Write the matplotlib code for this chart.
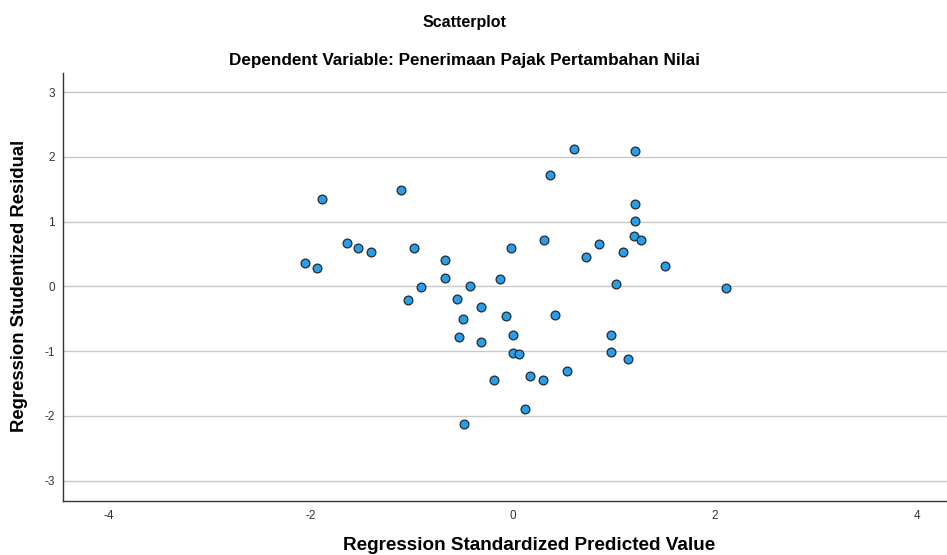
import matplotlib
matplotlib.use("Agg")
import matplotlib.pyplot as plt

plt.rcParams['font.family'] = ['Liberation Sans', 'DejaVu Sans']
plt.rcParams['axes.unicode_minus'] = False

# values
pred = [-2.054, -1.939, -1.883, -1.642, -1.527, -1.401, -1.104, -1.038, -0.982,
        -0.913, -0.675, -0.675, -0.553, -0.533, -0.497, -0.487, -0.428, -0.312,
        -0.312, -0.190, -0.124, -0.064, -0.018, -0.002, 0.002, 0.057, 0.124,
        0.173, 0.299, 0.312, 0.365, 0.418, 0.537, 0.606, 0.728, 0.850, 0.972,
        0.972, 1.022, 1.091, 1.144, 1.196, 1.213, 1.213, 1.213, 1.265, 1.510,
        2.111]
resid = [0.360, 0.288, 1.354, 0.665, 0.597, 0.525, 1.488, -0.207, 0.587,
         -0.006, 0.402, 0.133, -0.196, -0.789, -0.511, -2.118, 0.005, -0.320,
         -0.856, -1.448, 0.108, -0.454, 0.597, -1.026, -0.758, -1.046, -1.891,
         -1.381, -1.443, 0.711, 1.715, -0.449, -1.309, 2.127, 0.458, 0.659,
         -0.748, -1.015, 0.031, 0.535, -1.119, 0.782, 2.091, 1.277, 1.004,
         0.711, 0.314, -0.022]
xticks = [-4, -2, 0, 2, 4]
yticks = [-3, -2, -1, 0, 1, 2, 3]

fig = plt.figure(figsize=(9.47, 5.55), dpi=100)
ax = fig.add_axes([0.0665, 0.0978, 0.95, 0.7712])

ax.scatter(pred, resid, s=40, c='#2A9DE8', edgecolors='#1f2a33', linewidths=0.9, zorder=3)

ax.set_xlim(-4.45, 4.45)
ax.set_ylim(-3.31, 3.30)
ax.set_xticks(xticks)
ax.set_yticks(yticks)
ax.tick_params(length=0, labelsize=8.5, colors='#333333', pad=7)
ax.tick_params(axis='y', pad=6)
ax.grid(axis='y', color='#c8c8c8', linewidth=1.0, zorder=0)
ax.set_axisbelow(True)
for side in ['top', 'right']:
    ax.spines[side].set_visible(False)
for side in ['left', 'bottom']:
    ax.spines[side].set_color('#333333')
    ax.spines[side].set_linewidth(1.0)

fig.text(20 / 947, 1 - 286 / 555, 'Regression Studentized Residual', rotation=90,
         ha='center', va='center', fontsize=13.3, fontweight='bold')
fig.text(529 / 947, 1 - 546 / 555, 'Regression Standardized Predicted Value',
         ha='center', va='center', fontsize=13.6, fontweight='bold')
fig.text(464 / 947, 1 - 23 / 555, 'Scatterplot',
         ha='center', va='center', fontsize=11.5, fontweight='bold')
fig.text(464 / 947, 1 - 60 / 555, 'Dependent Variable: Penerimaan Pajak Pertambahan Nilai',
         ha='center', va='center', fontsize=12.3, fontweight='bold')

fig.savefig('out.png', dpi=100)
